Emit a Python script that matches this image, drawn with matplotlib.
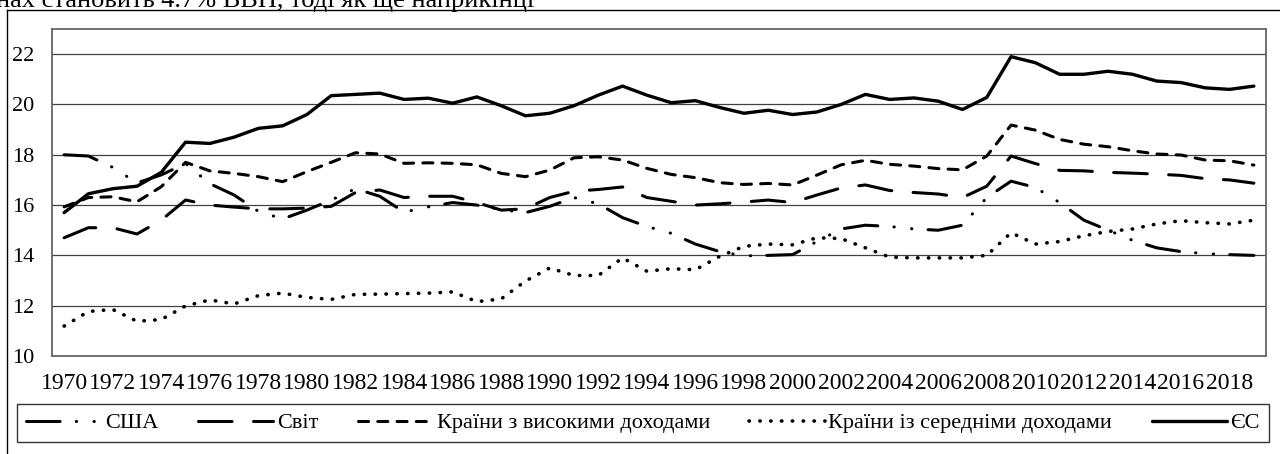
import numpy as np
import matplotlib.pyplot as plt
from matplotlib.lines import Line2D

# ==========================================================
# DONNÉES
# ==========================================================

years = np.arange(1970, 2020)

usa = [18.0, 17.95, 17.5, 16.88, 17.2, 17.65, 16.85, 16.4, 15.75, 15.45,
       15.8, 16.2, 16.65, 16.35, 15.72, 15.93, 16.1, 16.0, 15.82, 15.7,
       15.95, 16.3, 16.05, 15.5, 15.15, 14.88, 14.45, 14.15, 13.98, 14.0,
       14.03, 14.55, 15.05, 15.2, 15.15, 15.05, 15.0, 15.2, 16.3, 16.95,
       16.7, 16.1, 15.4, 15.0, 14.6, 14.3, 14.15, 14.07, 14.03, 14.0]

world = [14.7, 15.1, 15.1, 14.85, 15.4, 16.2, 16.0, 15.92, 15.85, 15.85,
         15.88, 15.95, 16.5, 16.6, 16.3, 16.35, 16.35, 16.1, 15.8, 15.85,
         16.3, 16.55, 16.62, 16.72, 16.3, 16.15, 16.0, 16.05, 16.12, 16.2,
         16.1, 16.4, 16.68, 16.8, 16.58, 16.5, 16.44, 16.3, 16.75, 17.95,
         17.65, 17.38, 17.36, 17.3, 17.27, 17.23, 17.18, 17.05, 17.0, 16.87]

high_income = [15.93, 16.3, 16.33, 16.13, 16.73, 17.7, 17.36, 17.26, 17.13, 16.93,
               17.33, 17.7, 18.08, 18.03, 17.66, 17.68, 17.66, 17.6, 17.26, 17.13,
               17.39, 17.88, 17.92, 17.79, 17.46, 17.22, 17.09, 16.89, 16.82, 16.86,
               16.8, 17.19, 17.6, 17.78, 17.62, 17.55, 17.45, 17.4, 17.95, 19.18,
               18.98, 18.61, 18.42, 18.32, 18.16, 18.03, 17.99, 17.79, 17.76, 17.59]

middle_income = [11.19, 11.77, 11.85, 11.38, 11.45, 11.99, 12.23, 12.07, 12.4, 12.5,
                 12.33, 12.25, 12.45, 12.46, 12.48, 12.5, 12.55, 12.16, 12.27, 12.98,
                 13.5, 13.2, 13.2, 13.9, 13.37, 13.47, 13.43, 13.96, 14.36, 14.45,
                 14.42, 14.7, 14.67, 14.3, 13.93, 13.9, 13.9, 13.9, 14.0, 14.9,
                 14.45, 14.55, 14.78, 14.95, 15.05, 15.25, 15.38, 15.3, 15.25, 15.4]

eu = [15.7, 16.45, 16.65, 16.75, 17.3, 18.5, 18.45, 18.7, 19.05, 19.15,
      19.6, 20.35, 20.4, 20.45, 20.2, 20.25, 20.05, 20.3, 19.95, 19.55,
      19.65, 19.95, 20.37, 20.73, 20.37, 20.07, 20.15, 19.88, 19.65, 19.77,
      19.6, 19.7, 20.0, 20.4, 20.2, 20.26, 20.13, 19.8, 20.28, 21.9,
      21.66, 21.2, 21.2, 21.32, 21.2, 20.93, 20.87, 20.66, 20.6, 20.73]

labels = ['США', 'Світ', 'Країни з високими доходами',
          'Країни із середніми доходами', 'ЄС']

y_ticks = [10, 12, 14, 16, 18, 20, 22]


def main():

    # ==========================================================
    # STYLE
    # ==========================================================

    plt.rcParams['font.family'] = ['Liberation Serif', 'DejaVu Serif']

    W, H = 1280, 454
    fig = plt.figure(figsize=(W / 100, H / 100), dpi=100)

    # fragment du texte au-dessus du graphique (coupé comme dans l'original)
    fig.text(-0.003, 1 - 7 / H, 'нах становить 4.7% ВВП, тоді як ще наприкінці',
             fontsize=19, va='baseline', ha='left')

    # cadre extérieur
    fig.add_artist(Line2D([7 / W, 1], [1 - 10 / H, 1 - 10 / H],
                          transform=fig.transFigure, color='black', lw=1))
    fig.add_artist(Line2D([7 / W, 7 / W], [0, 1 - 10 / H],
                          transform=fig.transFigure, color='black', lw=1))

    ax = fig.add_axes([52 / W, 1 - 356 / H, (1266 - 52) / W, (356 - 29) / H])

    # ==========================================================
    # COURBES
    # ==========================================================

    lw = 2.2
    l1, = ax.plot(years, usa, color='black', lw=lw, dash_capstyle='round')
    l1.set_dashes((11, 5.3, 0.1, 5.7, 0.1, 5.3))

    l2, = ax.plot(years, world, color='black', lw=lw, dash_capstyle='round')
    l2.set_dashes((11, 7))

    l3, = ax.plot(years, high_income, color='black', lw=lw, dash_capstyle='round')
    l3.set_dashes((3.3, 3))

    l4, = ax.plot(years, middle_income, color='black', lw=2.6, dash_capstyle='round')
    l4.set_dashes((0.1, 2.9))

    l5, = ax.plot(years, eu, color='black', lw=lw + 0.2, solid_capstyle='round')

    # ==========================================================
    # AXES
    # ==========================================================

    ax.set_xlim(1969.5, 2019.5)
    ax.set_ylim(10, 23)
    ax.set_yticks(y_ticks)
    ax.set_xticks(years[::2])
    ax.set_xticklabels([str(y) for y in years[::2]])
    ax.tick_params(axis='both', length=0, labelsize=16)
    ax.tick_params(axis='x', pad=12, labelsize=17)
    ax.tick_params(axis='y', pad=13)

    ax.grid(True, axis='y', color='#404040', lw=0.9)
    ax.set_axisbelow(True)
    for s in ax.spines.values():
        s.set_color('#666666')
        s.set_linewidth(1.3)

    # ==========================================================
    # LÉGENDE
    # ==========================================================

    leg = fig.legend([l1, l2, l3, l4, l5], labels, loc='center',
                     bbox_to_anchor=(643 / W, 1 - 423 / H), ncol=5,
                     fontsize=16, handlelength=3.4, handletextpad=0.15,
                     columnspacing=1.78, frameon=True, fancybox=False,
                     edgecolor='black', borderpad=0.4)
    leg.get_frame().set_linewidth(1.0)

    fig.savefig('out.png', dpi=100)


if __name__ == "__main__":
    main()
